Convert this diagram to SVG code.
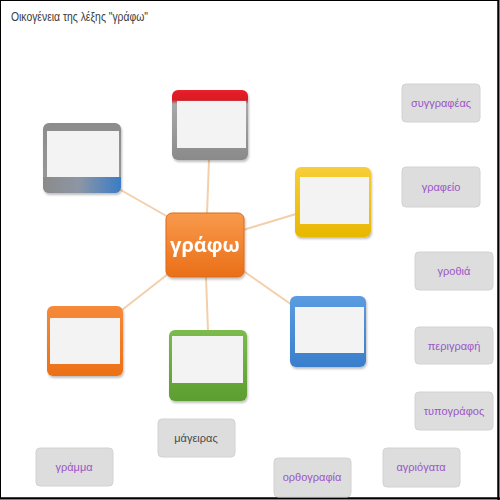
<svg xmlns="http://www.w3.org/2000/svg" width="500" height="500" viewBox="0 0 500 500">
<defs>
<style>
.title{font-family:"Liberation Sans",Arial,sans-serif;font-size:12px;fill:#3a3a3a}
.tile rect{fill:#dddddd;stroke:#d2d2d2;stroke-width:1}
.tile text{font-family:"Liberation Sans",Arial,sans-serif;font-size:11px;fill:#9b55c8;text-anchor:middle}
.tile.dark text{fill:#4a4a4a}
.inner{fill:#f3f3f3}
.conn line{stroke:#f3cfaa;stroke-width:2}
.box{filter:url(#sh)}
</style>
<filter id="sh" x="-10%" y="-10%" width="125%" height="125%">
<feDropShadow dx="1" dy="2" stdDeviation="1.2" flood-color="#000" flood-opacity="0.25"/>
</filter>
<linearGradient id="gRed" x1="0" y1="0" x2="0" y2="1">
<stop offset="0" stop-color="#e8202a"/><stop offset="0.14" stop-color="#d81c24"/><stop offset="0.2" stop-color="#a8a8a8"/><stop offset="1" stop-color="#8a8a8a"/>
</linearGradient>
<linearGradient id="gGray" x1="0" y1="0" x2="0" y2="1">
<stop offset="0" stop-color="#8c8c8c"/><stop offset="1" stop-color="#9a9a9a"/>
</linearGradient>
<linearGradient id="gGrayBlue" x1="0" y1="0" x2="1" y2="0">
<stop offset="0" stop-color="#8a8a8a"/><stop offset="0.45" stop-color="#8e96a4"/><stop offset="1" stop-color="#3a7cc6"/>
</linearGradient>
<linearGradient id="gYel" x1="0" y1="0" x2="0" y2="1">
<stop offset="0" stop-color="#f7ce3a"/><stop offset="1" stop-color="#e8b800"/>
</linearGradient>
<linearGradient id="gBlue" x1="0" y1="0" x2="0" y2="1">
<stop offset="0" stop-color="#5b9be0"/><stop offset="1" stop-color="#3a7fcc"/>
</linearGradient>
<linearGradient id="gOr" x1="0" y1="0" x2="0" y2="1">
<stop offset="0" stop-color="#f58a3a"/><stop offset="1" stop-color="#ec7016"/>
</linearGradient>
<linearGradient id="gGr" x1="0" y1="0" x2="0" y2="1">
<stop offset="0" stop-color="#7cbb4c"/><stop offset="1" stop-color="#5c9e30"/>
</linearGradient>
<linearGradient id="gCenter" x1="0" y1="0" x2="0" y2="1">
<stop offset="0" stop-color="#f89a4c"/><stop offset="1" stop-color="#ea6f18"/>
</linearGradient>
</defs>
<rect x="0" y="0" width="500" height="500" fill="#ffffff"/>
<rect x="0.5" y="0.5" width="497.5" height="497.5" fill="none" stroke="#000" stroke-width="1"/>
<line x1="498.5" y1="0" x2="498.5" y2="500" stroke="#000" stroke-width="2"/>
<line x1="0" y1="498.5" x2="500" y2="498.5" stroke="#000" stroke-width="2"/>
<text class="title" x="11" y="21" textLength="137" lengthAdjust="spacingAndGlyphs">Οικογένεια της λέξης "γράφω"</text>

<g id="connectors" class="conn">
<line x1="207" y1="214" x2="209" y2="160"/>
<line x1="170" y1="218" x2="119" y2="189"/>
<line x1="243" y1="230" x2="296" y2="214"/>
<line x1="242" y1="270" x2="292" y2="305"/>
<line x1="168" y1="274" x2="122" y2="310"/>
<line x1="206" y1="277" x2="208" y2="331"/>
</g>

<g id="node-center" class="box">
<rect x="166" y="213" width="78" height="64" rx="6" fill="url(#gCenter)" stroke="#e0691a" stroke-width="1"/>
<text x="205" y="252" font-family="'Open Sans','DejaVu Sans',sans-serif" font-size="20" font-weight="bold" fill="#ffffff" text-anchor="middle">γράφω</text>
</g>

<g id="node-red" class="box">
<rect x="172" y="90" width="76" height="70" rx="6" fill="url(#gRed)"/>
<rect class="inner" x="177" y="101" width="69" height="47"/>
</g>

<g id="node-gray" class="box">
<rect x="43" y="123" width="78" height="70" rx="6" fill="url(#gGray)"/>
<path d="M43 177 H121 V187 A6 6 0 0 1 115 193 H49 A6 6 0 0 1 43 187 Z" fill="url(#gGrayBlue)"/>
<rect class="inner" x="47" y="131" width="72" height="46"/>
</g>

<g id="node-yellow" class="box">
<rect x="295" y="167" width="76" height="70" rx="6" fill="url(#gYel)"/>
<rect class="inner" x="300" y="177" width="69" height="47"/>
</g>

<g id="node-blue" class="box">
<rect x="290" y="296" width="76" height="71" rx="6" fill="url(#gBlue)"/>
<rect class="inner" x="295" y="307" width="69" height="46"/>
</g>

<g id="node-orange" class="box">
<rect x="47" y="306" width="76" height="70" rx="6" fill="url(#gOr)"/>
<rect class="inner" x="50" y="318" width="70" height="46"/>
</g>

<g id="node-green" class="box">
<rect x="169" y="330" width="78" height="71" rx="6" fill="url(#gGr)"/>
<rect class="inner" x="172" y="336" width="71" height="47"/>
</g>

<g id="tile-syggrafeas" class="tile"><rect x="402" y="84" width="78" height="38" rx="4"/><text x="441" y="107">συγγραφέας</text></g>
<g id="tile-grafeio" class="tile"><rect x="402" y="167" width="78" height="40" rx="4"/><text x="441" y="191">γραφείο</text></g>
<g id="tile-grothia" class="tile"><rect x="415" y="252" width="78" height="38" rx="4"/><text x="454" y="275">γροθιά</text></g>
<g id="tile-perigrafi" class="tile"><rect x="415" y="327" width="78" height="37" rx="4"/><text x="454" y="350">περιγραφή</text></g>
<g id="tile-typografos" class="tile"><rect x="415" y="392" width="78" height="38" rx="4"/><text x="454" y="415">τυπογράφος</text></g>
<g id="tile-agriogata" class="tile"><rect x="383" y="448" width="77" height="39" rx="4"/><text x="421" y="471">αγριόγατα</text></g>
<g id="tile-mageiras" class="tile dark"><rect x="158" y="419" width="77" height="38" rx="4"/><text x="196" y="442">μάγειρας</text></g>
<g id="tile-gramma" class="tile"><rect x="36" y="448" width="77" height="38" rx="4"/><text x="74" y="471">γράμμα</text></g>
<g id="tile-orthografia" class="tile"><rect x="274" y="458" width="77" height="39" rx="4"/><text x="312" y="481">ορθογραφία</text></g>
</svg>
